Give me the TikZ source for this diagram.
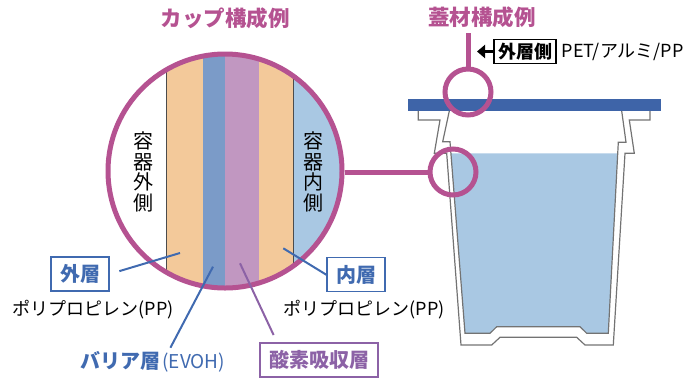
\documentclass[tikz,border=0pt]{standalone}
\usepackage{fontspec}
\setmainfont{Noto Sans CJK JP}
\usetikzlibrary{arrows.meta,positioning}

\definecolor{cuppink}{RGB}{181,82,145}
\definecolor{pplayer}{RGB}{243,201,154}
\definecolor{evohlayer}{RGB}{123,155,200}
\definecolor{oxlayer}{RGB}{193,151,193}
\definecolor{content}{RGB}{169,200,227}
\definecolor{lidblue}{RGB}{62,100,168}
\definecolor{lblblue}{RGB}{64,106,176}
\definecolor{lblpurple}{RGB}{140,98,166}

\tikzstyle{heading}=[
	text=cuppink,
	font=\bfseries\fontsize{21.5}{21.5}\selectfont
]
\tikzstyle{layerbox}=[
	rectangle,
	draw,
	line width=1.5pt,
	fill=white,
	inner xsep=9pt,
	minimum height=34pt,
	font=\bfseries\fontsize{20}{20}\selectfont
]
\tikzstyle{material}=[
	inner sep=1pt,
	font=\fontsize{18}{18}\selectfont
]
\tikzstyle{sidetext}=[
	align=center,
	inner sep=0pt,
	font=\fontsize{20}{20.5}\selectfont
]
\tikzstyle{loupe}=[
	circle,
	draw=cuppink,
	line width=5pt,
	inner sep=0pt
]
\tikzstyle{pointer}=[
	line width=2pt
]
\tikzstyle{cupline}=[
	draw=black!55,
	line width=1.2pt,
	line join=miter
]

\begin{document}
\begin{tikzpicture}[x=1pt,y=-1pt]
\useasboundingbox (0,0) rectangle (696,381);

% wall section, clipped to the loupe
\begin{scope}
	\clip (225,171) circle[radius=117pt];
	\fill[pplayer] (166,50) rectangle (203,295);
	\fill[evohlayer] (203,50) rectangle (225,295);
	\fill[oxlayer] (225,50) rectangle (259,295);
	\fill[pplayer] (259,50) rectangle (293,295);
	\fill[content] (293,50) rectangle (345,295);
	\draw[black!70, line width=0.8pt] (166,50) -- (166,295) (293,50) -- (293,295);
\end{scope}
\node [loupe, minimum size=234pt] (cupzoom) at (225,171) {};
\node [sidetext] (outside) at (143,172) {容\\器\\外\\側};
\node [sidetext] (inside) at (313,172) {容\\器\\内\\側};
\node [heading] (cuptitle) at (225,18) {カップ構成例};

% cup with contents
\fill[content] (451,153.3) -- (465,333.3) -- (490,333.3) -- (496.7,326.7)
	-- (580,326.7) -- (586.7,333.3) -- (608.3,333.3) -- (617.7,153.3) -- cycle;
\draw[cupline] (418.3,111) -- (418.3,120) -- (440,120) -- (434.3,153.3) -- (446.7,153.3)
	-- (461,345) -- (491.7,345) -- (500,337.3) -- (576.7,337.3) -- (585,345) -- (613.3,345)
	-- (625,153.3) -- (634.3,153.3) -- (629.3,120) -- (650,120) -- (650,111);
\draw[cupline] (449.3,111) -- (442.7,141.7) -- (450,141.7) -- (465,333.3) -- (490,333.3)
	-- (496.7,326.7) -- (580,326.7) -- (586.7,333.3) -- (608.3,333.3) -- (618.3,142.3)
	-- (626,142.3) -- (621.7,111);
\fill[lidblue] (408,99) rectangle (661,111);

% loupes on the cup
\node [loupe, minimum size=46pt] (wallzoom) at (453,172) {};
\node [loupe, minimum size=46pt] (lidzoom) at (468,92) {};
\coordinate (lidtop) at (468,33);
\draw[cuppink, line width=5pt] (cupzoom.east |- wallzoom.west) -- (wallzoom.west);
\draw[cuppink, line width=5pt] (lidzoom.north) -- (lidtop);
\node [heading] (lidtitle) at (482,17) {蓋材構成例};

% lid layers
\node [rectangle, draw, line width=1.5pt, inner xsep=4pt, minimum height=23pt,
	font=\bfseries\fontsize{18}{18}\selectfont] (lidside) at (525,51.5) {外層側};
\coordinate (lidarrow) at (477,51.5);
\draw[line width=3.5pt, -{Triangle[length=8pt,width=13pt]}] (lidside.west) -- (lidarrow);
\node [material, right=4pt of lidside] (lidfilm) {PET/アルミ/PP};

% layer labels
\coordinate (outerpt) at (180,253);
\coordinate (evohpt) at (213,266.7);
\coordinate (oxpt) at (240,263.3);
\coordinate (innerpt) at (283.3,248.3);
\node [layerbox, draw=lblblue, text=lblblue] (outerlbl) at (80,274) {外層};
\node [material] (outerpp) at (93,310) {ポリプロピレン(PP)};
\node [layerbox, draw=lblblue, text=lblblue] (innerlbl) at (356,274.7) {内層};
\node [material] (innerpp) at (364,310) {ポリプロピレン(PP)};
\node [inner sep=1pt, text=lblblue] (evohlbl) at (153,362)
	{{\bfseries\fontsize{20}{20}\selectfont バリア層}\,{\fontsize{19}{19}\selectfont (EVOH)}};
\node [layerbox, draw=lblpurple, text=lblpurple] (oxlbl) at (319,360) {酸素吸収層};

\draw[pointer, lblblue, shorten <=10pt] (outerlbl.east) -- (outerpt);
\draw[pointer, lblblue] (innerpt) -- (innerlbl.west);
\draw[pointer, lblblue, shorten >=3pt] (evohpt) -- ([xshift=16pt]evohlbl.north);
\draw[pointer, lblpurple, shorten >=8pt] (oxpt) -- ([xshift=-42pt]oxlbl.north);
\end{tikzpicture}
\end{document}
